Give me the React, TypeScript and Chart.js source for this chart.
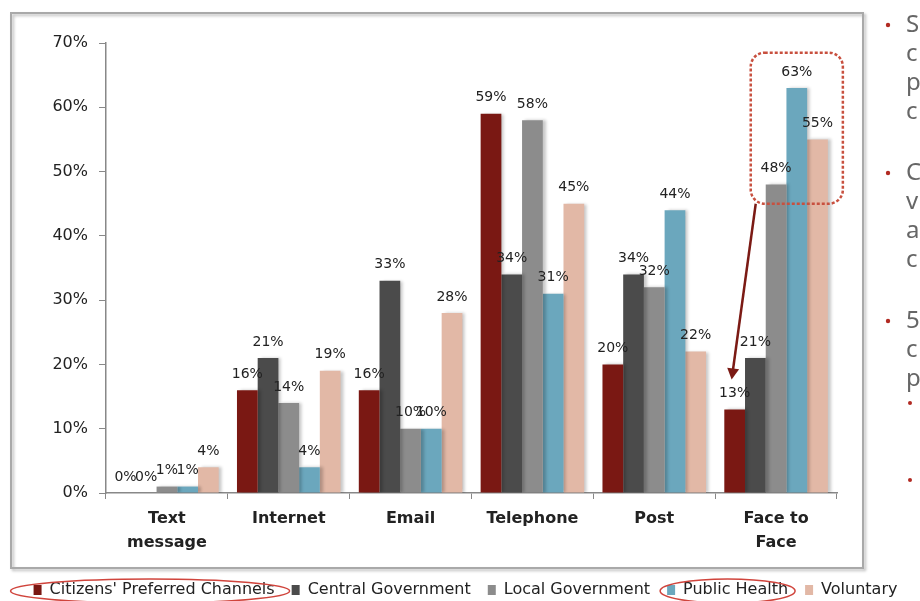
import React, { useEffect, useRef } from 'react';
import { Chart, registerables } from 'chart.js';

Chart.register(...registerables);

const categories: (string | string[])[] = [['Text', 'message'], 'Internet', 'Email', 'Telephone', 'Post', ['Face to', 'Face']];
const citizens = [0, 16, 16, 59, 20, 13];
const centralGov = [0, 21, 33, 34, 34, 21];
const localGov = [1, 14, 10, 58, 32, 48];
const publicHealth = [1, 4, 10, 31, 44, 63];
const voluntary = [4, 19, 28, 45, 22, 55];
const seriesNames = ["Citizens' Preferred Channels", 'Central Government', 'Local Government', 'Public Health', 'Voluntary'];
const seriesColors = ['#7a1813', '#4b4b4b', '#8c8c8c', '#6ba7bd', '#e2b8a6'];
const yMin = 0;
const yMax = 70;
const yStep = 10;
const sideParagraphs = [['S', 'c', 'p', 'c'], ['C', 'v', 'a', 'c'], ['5', 'c', 'p']];
const sideSubBullets = 2;

const FONT = "'DejaVu Sans', sans-serif";

const decorPlugin = {
  id: 'decor',
  beforeDraw(chart: any) {
    const ctx = chart.ctx;
    ctx.save();
    ctx.fillStyle = '#ffffff';
    ctx.fillRect(0, 0, chart.width, chart.height);
    ctx.shadowColor = 'rgba(0,0,0,0.28)';
    ctx.shadowOffsetX = 2;
    ctx.shadowOffsetY = 2;
    ctx.shadowBlur = 3;
    ctx.strokeStyle = '#a9a9a9';
    ctx.lineWidth = 2;
    ctx.strokeRect(11, 13, 852, 555);
    ctx.restore();
  },
  beforeDatasetsDraw(chart: any) {
    const ctx = chart.ctx;
    ctx.save();
    ctx.shadowColor = 'rgba(0,0,0,0.22)';
    ctx.shadowOffsetX = 3;
    ctx.shadowOffsetY = 0;
    ctx.shadowBlur = 3;
  },
  afterDatasetsDraw(chart: any) {
    const ctx = chart.ctx;
    ctx.restore();
    ctx.save();
    ctx.font = `14px ${FONT}`;
    ctx.fillStyle = '#222';
    ctx.textAlign = 'center';
    ctx.textBaseline = 'bottom';
    chart.data.datasets.forEach((ds: any, i: number) => {
      const meta = chart.getDatasetMeta(i);
      meta.data.forEach((bar: any, j: number) => {
        ctx.fillText(ds.data[j] + '%', bar.x, bar.y - 9);
      });
    });
    ctx.restore();
  },
  afterDraw(chart: any) {
    const ctx = chart.ctx;
    const y = chart.scales.y;
    const last = categories.length - 1;
    const gBar = chart.getDatasetMeta(2).data[last];
    const vBar = chart.getDatasetMeta(4).data[last];
    const rBar = chart.getDatasetMeta(0).data[last];
    const left = gBar.x - gBar.width / 2 - 15;
    const right = vBar.x + vBar.width / 2 + 15;
    const top = y.getPixelForValue(68.5);
    const bottom = y.getPixelForValue(45);
    ctx.save();
    // dotted highlight box
    ctx.strokeStyle = '#c8503f';
    ctx.lineWidth = 2.5;
    ctx.setLineDash([3, 2]);
    ctx.beginPath();
    (ctx as any).roundRect(left, top, right - left, bottom - top, 14);
    ctx.stroke();
    ctx.setLineDash([]);
    // arrow
    const x0 = left + 5;
    const y0 = bottom;
    const x1 = rBar.x - 3;
    const y1 = y.getPixelForValue(citizens[last]) - 30;
    ctx.strokeStyle = '#7b1a14';
    ctx.fillStyle = '#7b1a14';
    ctx.lineWidth = 2.5;
    const ang = Math.atan2(y1 - y0, x1 - x0);
    ctx.beginPath();
    ctx.moveTo(x0, y0);
    ctx.lineTo(x1 - 8 * Math.cos(ang), y1 - 8 * Math.sin(ang));
    ctx.stroke();
    ctx.beginPath();
    ctx.moveTo(x1, y1);
    ctx.lineTo(x1 - 11 * Math.cos(ang) + 6 * Math.sin(ang), y1 - 11 * Math.sin(ang) - 6 * Math.cos(ang));
    ctx.lineTo(x1 - 11 * Math.cos(ang) - 6 * Math.sin(ang), y1 - 11 * Math.sin(ang) + 6 * Math.cos(ang));
    ctx.closePath();
    ctx.fill();
    // legend ellipses
    const hb = chart.legend && chart.legend.legendHitBoxes;
    if (hb) {
      ctx.strokeStyle = '#d0443c';
      ctx.lineWidth = 1.5;
      [0, 3].forEach((k, n) => {
        const b = hb[k];
        if (!b) return;
        ctx.beginPath();
        ctx.ellipse(b.left + b.width / 2 - (n === 0 ? 4 : 0), b.top + b.height / 2 + 1, b.width / 2 + (n === 0 ? 19 : 7), 12, 0, 0, Math.PI * 2);
        ctx.stroke();
      });
    }
    // cropped side text of the slide
    ctx.font = `24px 'Noto Sans', sans-serif`;
    ctx.textBaseline = 'middle';
    ctx.textAlign = 'left';
    let ly = 25;
    sideParagraphs.forEach((lines) => {
      ctx.fillStyle = '#b22a22';
      ctx.beginPath();
      ctx.arc(888, ly, 2.2, 0, Math.PI * 2);
      ctx.fill();
      ctx.fillStyle = '#666';
      lines.forEach((t) => {
        ctx.fillText(t, 906, ly);
        ly += 29;
      });
      ly += 32;
    });
    ctx.fillStyle = '#b22a22';
    for (let s = 0; s < sideSubBullets; s++) {
      ctx.beginPath();
      ctx.arc(910, 403 + s * 77, 2, 0, Math.PI * 2);
      ctx.fill();
    }
    ctx.restore();
  },
};

export default function App() {
  const ref = useRef<HTMLCanvasElement | null>(null);
  useEffect(() => {
    if (!ref.current) return;
    const all = [citizens, centralGov, localGov, publicHealth, voluntary];
    const chart = new Chart(ref.current, {
      type: 'bar',
      data: {
        labels: categories as any,
        datasets: all.map((d, i) => ({
          label: seriesNames[i],
          data: d,
          backgroundColor: seriesColors[i],
          borderWidth: 0,
          categoryPercentage: 0.85,
          barPercentage: 1,
        })),
      },
      options: {
        animation: false,
        responsive: false,
        layout: { padding: { top: 43, left: 11, right: 0, bottom: -7 } },
        plugins: {
          tooltip: { enabled: false },
          legend: {
            position: 'bottom',
            labels: {
              boxWidth: 8,
              boxHeight: 10,
              padding: 17,
              color: '#222',
              font: { family: FONT, size: 16 },
            },
          },
        },
        scales: {
          x: {
            afterFit: (s: any) => { s.height = 72; },
            grid: { display: true, drawOnChartArea: false, drawTicks: true, tickLength: 6, color: '#888', offset: true },
            border: { display: true, color: '#888', width: 1.5 },
            ticks: {
              color: '#222',
              padding: 8,
              maxRotation: 0,
              autoSkip: false,
              font: { family: FONT, size: 16, weight: 'bold', lineHeight: 1.5 },
            },
          },
          y: {
            min: yMin,
            max: yMax,
            afterFit: (s: any) => { s.width = 95; },
            grid: { display: true, drawOnChartArea: false, drawTicks: true, tickLength: 7, color: '#888' },
            border: { display: true, color: '#888', width: 1.5 },
            ticks: {
              stepSize: yStep,
              color: '#222',
              padding: 11,
              font: { family: FONT, size: 16 },
              callback: (v: any) => v + '%',
            },
          },
          y2: {
            position: 'right',
            display: true,
            afterFit: (s: any) => { s.width = 83; },
            grid: { display: false },
            border: { display: false },
            ticks: { display: false },
          },
        },
      } as any,
      plugins: [decorPlugin],
    });
    return () => chart.destroy();
  }, []);
  return (
    <div style={{ position: 'absolute', left: 0, top: 0, width: 920, height: 601, overflow: 'hidden' }}>
      <canvas ref={ref} width={920} height={601} style={{ display: 'block' }} />
    </div>
  );
}
